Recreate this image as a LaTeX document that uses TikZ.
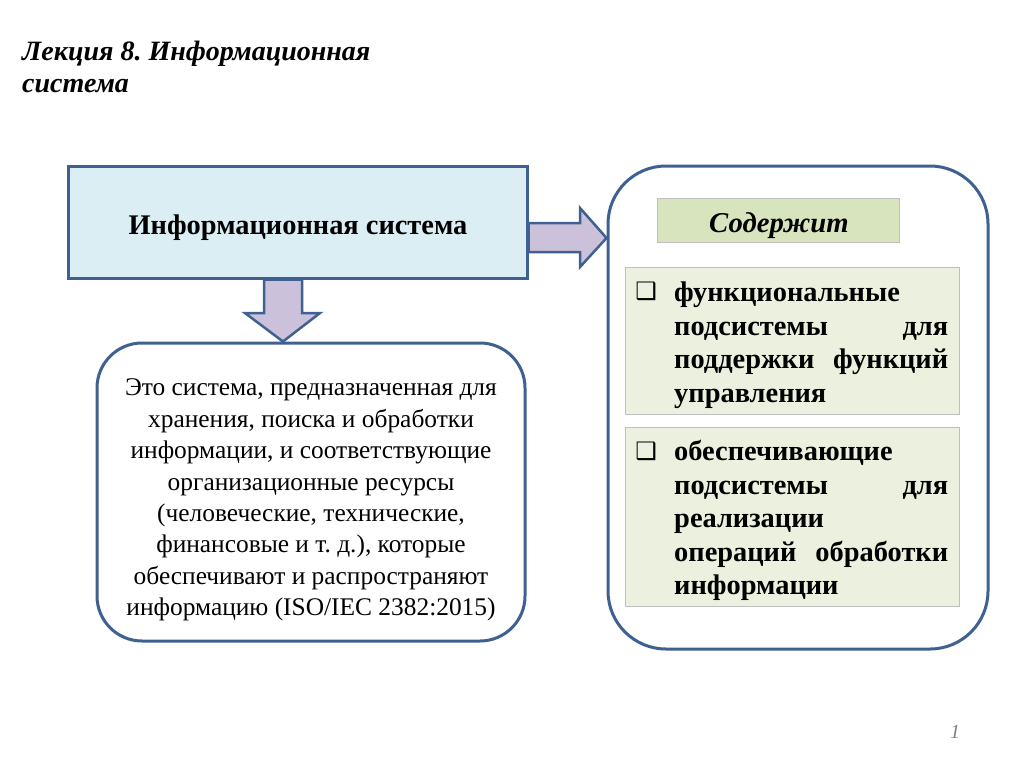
\documentclass[tikz,border=0pt]{standalone}
\usepackage{fontspec}
\setmainfont{Liberation Serif}
\newfontfamily\dingfont{DejaVu Sans}
\hyphenpenalty=10000
\exhyphenpenalty=10000
\frenchspacing

\definecolor{frameblue}{HTML}{3E6192}
\definecolor{boxblue}{HTML}{DBEEF4}
\definecolor{arrowlilac}{HTML}{CCC1DA}
\definecolor{headgreen}{HTML}{D7E4BD}
\definecolor{itemgreen}{HTML}{EBF1DE}
\definecolor{itemgray}{HTML}{BFBFBF}

\begin{document}
\begin{tikzpicture}[x=1pt, y=-1pt,
  frame/.style={draw=frameblue, line width=3pt, inner sep=0pt},
  mainbox/.style={frame, fill=boxblue, minimum width=459pt, minimum height=112pt},
  roundbox/.style={frame, fill=white},
  blockarrow/.style={draw=frameblue, line width=2.5pt, fill=arrowlilac, line join=miter},
  greenbox/.style={draw=itemgray, line width=0.8pt, inner sep=0pt},
  itemtext/.style={anchor=north west, inner sep=0pt, text width=274pt, align=justify,
    font=\fontsize{28.4}{33.5}\selectfont\bfseries},
  bulletmark/.style={inner sep=0pt, font=\dingfont\fontsize{24}{24}\selectfont}]

\useasboundingbox (0,0) rectangle (1024,768);

% title
\node[anchor=north west, inner sep=0pt, align=left,
  font=\fontsize{28}{32}\selectfont\bfseries\itshape] (title) at (22,41)
  {Лекция 8. Информационная\\система};

% left part
\node[mainbox] (main) at (297.5,222) {};
\node[anchor=base, inner sep=0pt, font=\fontsize{28.4}{32}\selectfont\bfseries] (maintext)
  at (298,234) {Информационная система};
\node[roundbox, rounded corners=45pt, minimum width=428pt, minimum height=298pt] (def) at (311,492) {};
\node[align=center, inner sep=0pt, font=\fontsize{25.4}{31.4}\selectfont] (deftext) at (311,500)
  {Это система, предназначенная для\\
   хранения, поиска и обработки\\
   информации, и соответствующие\\
   организационные ресурсы\\
   (человеческие, технические,\\
   финансовые и т. д.), которые\\
   обеспечивают и распространяют\\
   информацию (ISO/IEC 2382:2015)};

% right part
\node[roundbox, rounded corners=58pt, minimum width=380pt, minimum height=483pt] (content) at (798,407.5) {};
\node[greenbox, fill=headgreen, minimum width=242pt, minimum height=44pt] (head) at (778,220) {};
\node[anchor=base, inner sep=0pt, font=\fontsize{28.7}{32}\selectfont\bfseries\itshape] (headtext)
  at (779,232) {Содержит};
\node[greenbox, fill=itemgreen, minimum width=334pt, minimum height=147pt] (item1) at (792,340.5) {};
\node[greenbox, fill=itemgreen, minimum width=334pt, minimum height=179pt] (item2) at (792,516.5) {};

\node[bulletmark] (bullet1) at (646,291.5) {❑};
\node[itemtext] (text1) at (674,282)
  {функциональные\linebreak подсистемы для\linebreak поддержки функций\linebreak управления};
\node[bulletmark] (bullet2) at (646,451.5) {❑};
\node[itemtext] (text2) at (674,440)
  {обеспечивающие\linebreak подсистемы для\linebreak реализации\linebreak операций обработки\linebreak информации};

% arrows
\coordinate (tipR) at (content.west |- 0,238);
\draw[blockarrow] (main.east |- 0,223) -- (580,223) -- (580,208) -- (tipR)
  -- (580,267) -- (580,252) -- (main.east |- 0,252) -- cycle;
\coordinate (tipD) at (def.north -| 283,0);
\draw[blockarrow] (main.south -| 264,0) -- (264,313) -- (245,313) -- (tipD)
  -- (320,313) -- (302,313) -- (main.south -| 302,0) -- cycle;

% page number
\node[font=\fontsize{20}{20}\selectfont\itshape, text=gray] (pagenum) at (955,732) {1};

\end{tikzpicture}
\end{document}
